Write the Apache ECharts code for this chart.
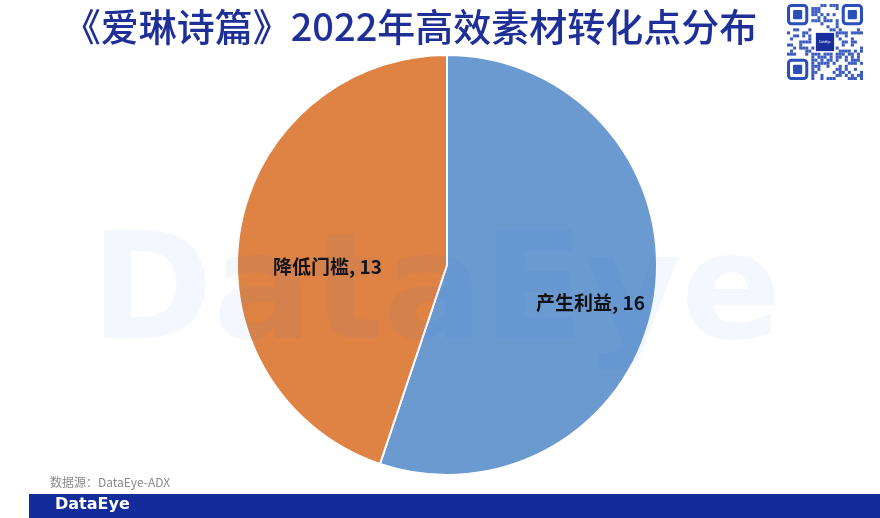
<!DOCTYPE html>
<html>
<head>
<meta charset="utf-8">
<script src="https://cdn.jsdelivr.net/npm/echarts@6/dist/echarts.min.js"></script>
<style>
html,body{margin:0;padding:0;background:#fff;}
#chart{width:880px;height:518px;}
</style>
</head>
<body>
<div id="chart"></div>
<script>
const titleText = '《爱琳诗篇》2022年高效素材转化点分布';
const categories = ['产生利益', '降低门槛'];
const values = [16, 13];
const colors = ['#6a9ad0', '#df8344'];
const labelOffsets = [[37, 20], [-13, 19]];
const sourceText = '数据源：DataEye-ADX';

// QR code decoration (deterministic pattern)
function qrGraphics(x0, y0, size) {
  const n = 25, cell = size / n, els = [];
  function isFinder(r, c) {
    return (r < 8 && c < 8) || (r < 8 && c >= n - 8) || (r >= n - 8 && c < 8);
  }
  for (let r = 0; r < n; r++) {
    for (let c = 0; c < n; c++) {
      if (isFinder(r, c)) continue;
      if (r >= 9 && r <= 15 && c >= 9 && c <= 15) continue;
      const h = ((r * 37 + c * 17 + r * c * 7) ^ (r * 11 + c * 3)) % 7;
      if (h < 3) els.push({type:'rect', shape:{x:x0 + c*cell, y:y0 + r*cell, width:cell, height:cell}, style:{fill:'#3a5cc0'}});
    }
  }
  [[0,0],[0,n-7],[n-7,0]].forEach(([r,c])=>{
    els.push({type:'rect', shape:{x:x0+c*cell+cell*0.5, y:y0+r*cell+cell*0.5, width:cell*6, height:cell*6, r:3}, style:{fill:'none', stroke:'#2a4fb8', lineWidth:cell}});
    els.push({type:'rect', shape:{x:x0+c*cell+cell*2, y:y0+r*cell+cell*2, width:cell*3, height:cell*3, r:1}, style:{fill:'#2a4fb8'}});
  });
  els.push({type:'rect', shape:{x:x0+cell*9.5, y:y0+cell*9.5, width:cell*6, height:cell*6}, style:{fill:'#1a2e9e'}});
  els.push({type:'text', x:x0+cell*12.5, y:y0+cell*12.5, style:{text:'DataEye', fill:'#fff', font:'3px sans-serif', align:'center', verticalAlign:'middle'}});
  return els;
}

const chart = echarts.init(document.getElementById('chart'));
chart.setOption({
  backgroundColor: '#ffffff',
  animation: false,
  title: {
    text: titleText,
    left: 405,
    top: 3,
    textAlign: 'center',
    textStyle: {color: '#1f2f98', fontSize: 38, fontWeight: 500, fontFamily: 'Noto Sans CJK SC'}
  },
  series: [{
    type: 'pie',
    center: [447, 265],
    radius: [0, 210],
    startAngle: 90,
    clockwise: true,
    z: 2,
    itemStyle: {borderColor: '#ffffff', borderWidth: 2},
    label: {
      show: true,
      position: 'inside',
      formatter: '{b}, {c}',
      color: '#111',
      fontSize: 19,
      fontWeight: 'bold',
      fontFamily: 'Noto Sans CJK SC'
    },
    labelLine: {show: false},
    emphasis: {disabled: true},
    data: categories.map((c, i) => ({
      name: c, value: values[i],
      itemStyle: {color: colors[i]},
      label: {offset: labelOffsets[i]}
    }))
  }],
  graphic: [
    {type:'text', left: 90, top: 226, z: 10, silent: true,
     style:{text:'DataEye', fill:'rgba(40,90,210,0.05)', font:'bold 148px "DejaVu Sans"'}},
    {type:'text', left: 50, top: 476, style:{text: sourceText, fill:'#8a8a8a', font:'12px "Noto Sans CJK SC"'}},
    {type:'rect', shape:{x:29, y:494, width:851, height:24}, style:{fill:'#142b9c'}},
    {type:'text', left: 55, top: 497, style:{text:'DataEye', fill:'#ffffff', font:'bold 16px "DejaVu Sans"'}},
    {type:'group', children: qrGraphics(787, 4, 76)}
  ]
});
</script>
</body>
</html>
